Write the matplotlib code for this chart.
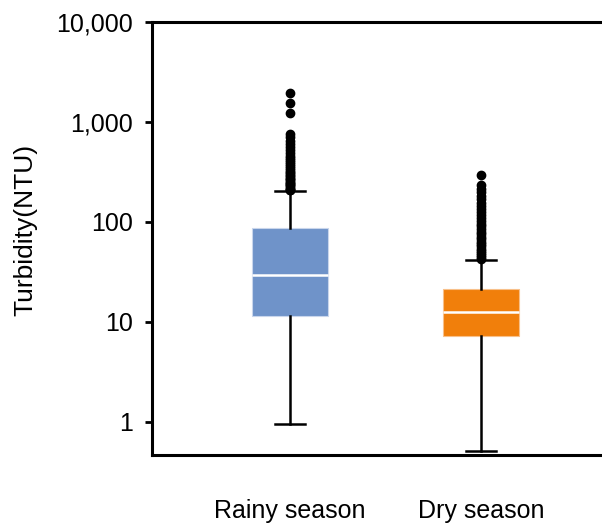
import matplotlib
matplotlib.use("Agg")
import matplotlib.pyplot as plt
from matplotlib.ticker import FuncFormatter, NullLocator

plt.rcParams['font.family'] = ['Liberation Sans', 'DejaVu Sans']

# box statistics (NTU)
seasons = ['Rainy season', 'Dry season']
whisker_low = [0.95, 0.51]
q1 = [11.5, 7.2]
median = [29.5, 12.6]
q3 = [87, 21.4]
whisker_high = [204, 42]
rainy_outliers = [1950, 1550, 1230, 760, 700, 650, 600, 560, 520, 490, 460, 440,
                  420, 400, 380, 360, 345, 330, 318, 305, 295, 285, 275, 268,
                  260, 252, 245, 238, 232, 226, 220, 215, 210, 206]
dry_outliers = [295, 234, 215, 198, 182, 168, 156, 145, 135, 126, 118, 110, 103,
                96, 90, 85, 80, 75, 71, 67, 63, 60, 57, 54, 51, 49, 47, 45, 43]
outliers = [rainy_outliers, dry_outliers]
colors = ['#6f93c9', '#f17f0b']

stats = []
for i in range(len(seasons)):
    stats.append({'label': seasons[i], 'whislo': whisker_low[i], 'q1': q1[i],
                  'med': median[i], 'q3': q3[i], 'whishi': whisker_high[i],
                  'fliers': outliers[i]})

fig = plt.figure(figsize=(6.02, 5.23), dpi=100)
ax = fig.add_axes([0.2525, 0.13, 0.7475, 0.828])

bp = ax.bxp(stats, positions=[1, 2], widths=0.40, patch_artist=True,
            capwidths=0.16,
            boxprops=dict(linewidth=0.8),
            medianprops=dict(color='white', linewidth=1.8),
            whiskerprops=dict(color='black', linewidth=1.8),
            capprops=dict(color='black', linewidth=1.8),
            flierprops=dict(marker='o', markerfacecolor='black',
                            markeredgecolor='black', markersize=6))
for patch, c in zip(bp['boxes'], colors):
    patch.set_facecolor(c)
    patch.set_edgecolor('#c9d6ec' if c == colors[0] else '#f8c08a')

ax.set_yscale('log')
ax.set_ylim(0.465, 10000)
ax.set_xlim(0.277, 2.634)
ax.yaxis.set_major_formatter(FuncFormatter(lambda v, p: '{:,.0f}'.format(v)))
ax.yaxis.set_minor_locator(NullLocator())
ax.set_ylabel('Turbidity(NTU)', fontsize=19)
ax.yaxis.set_label_coords(-0.255, 0.52)

ax.spines['right'].set_visible(False)
for s in ['left', 'top', 'bottom']:
    ax.spines[s].set_linewidth(2.2)
ax.tick_params(axis='y', labelsize=18, width=2, length=5, pad=9)
ax.tick_params(axis='x', labelsize=18, length=0, pad=32)

fig.savefig('out.png', dpi=100)
